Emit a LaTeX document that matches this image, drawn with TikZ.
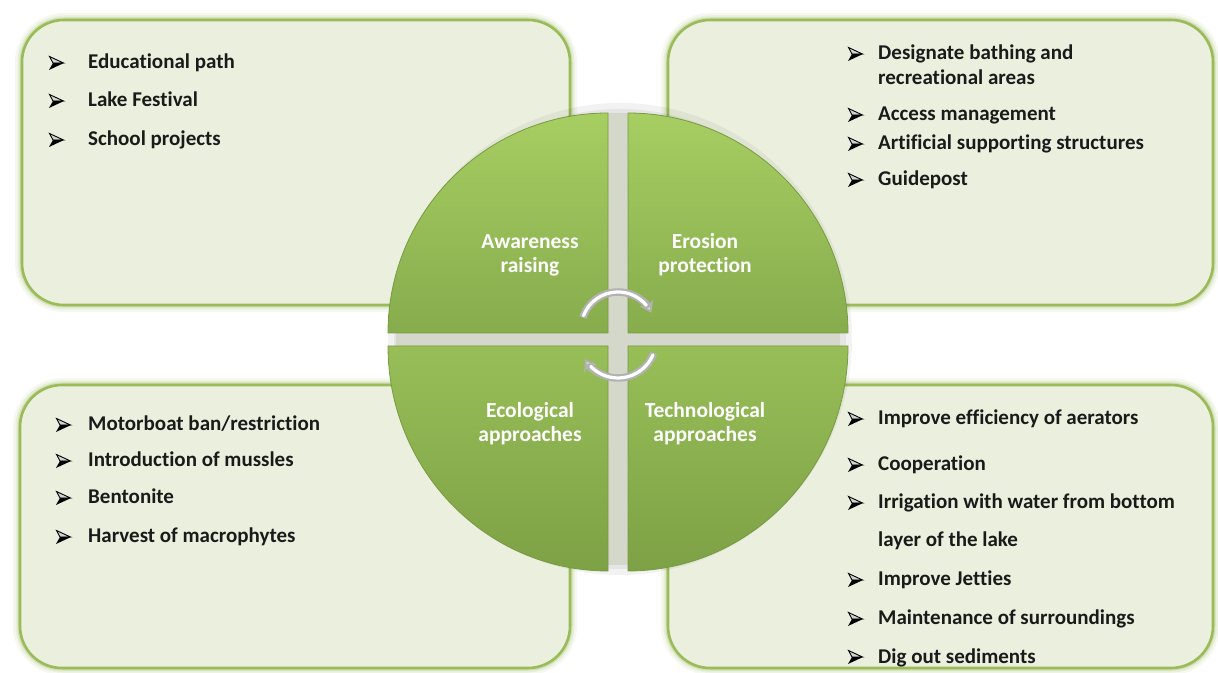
\documentclass[tikz,border=0pt]{standalone}
\usepackage{fontspec}
\setmainfont{Carlito}[Ligatures=NoCommon]
\usetikzlibrary{arrows.meta}
\definecolor{boxfill}{HTML}{EBF0DE}
\definecolor{boxline}{HTML}{9BBB59}
\definecolor{glowc}{HTML}{B5CC88}
\definecolor{qlight}{HTML}{A7CE62}
\definecolor{qdark}{HTML}{86AC4D}
\definecolor{qlight2}{HTML}{98BE58}
\definecolor{qdark2}{HTML}{7DA145}
\definecolor{qedge}{HTML}{789A40}
\definecolor{gapc}{HTML}{D3D8CB}
\definecolor{txt}{HTML}{1A1A1A}
\tikzset{
  glow1/.style={draw=glowc, line width=14pt, opacity=0.12, rounded corners=42pt},
  glow2/.style={draw=glowc, line width=9pt, opacity=0.22, rounded corners=42pt},
  glow3/.style={draw=glowc, line width=5pt, opacity=0.45, rounded corners=42pt},
  panel/.style={fill=boxfill, draw=boxline, line width=2.6pt, rounded corners=42pt},
  quadtop/.style={top color=qlight, bottom color=qdark, draw=qedge, line width=0.8pt},
  quadbot/.style={top color=qlight2, bottom color=qdark2, draw=qedge, line width=0.8pt},
  qlabel/.style={text=white, font=\bfseries\fontsize{21.5}{24}\selectfont, align=center, inner sep=0pt},
  itm/.style={anchor=base west, text=txt, font=\bfseries\fontsize{21}{22}\selectfont, inner sep=0pt},
  cycout/.style={draw=gray!60, line width=7.5pt, -{Stealth[length=11pt,width=15pt,fill=gray!25]}},
  cycin/.style={draw=white, line width=3.2pt, line cap=round},
  bularrow/.pic={
    \filldraw[fill=gray!35, draw=black, line width=0.9pt, line join=miter] (0.5,6.5) -- (14.5,0) -- (4,0) -- cycle;
    \fill[black] (0,-7) -- (15,0) -- (4,0) -- cycle;
  },
}
\begin{document}
\begin{tikzpicture}[x=1pt,y=1pt]
\useasboundingbox (0,0) rectangle (1218,672);
\fill[white] (0,0) rectangle (1218,672);
% panels
\foreach \a/\b/\c/\d in {22/367/570/652, 668/367/1213/652, 20/4/570/287, 668/4/1213/287}{
  \draw[glow1] (\a,\b) rectangle (\c,\d);
  \draw[glow2] (\a,\b) rectangle (\c,\d);
  \draw[glow3] (\a,\b) rectangle (\c,\d);
  \draw[panel] (\a,\b) rectangle (\c,\d);
}
% circle shadow and gap background
\fill[black, opacity=0.05] (620,333) ellipse[x radius=232, y radius=236];
\fill[black, opacity=0.05] (620,333) ellipse[x radius=226, y radius=230];
\fill[gapc] (618,333) ellipse[x radius=222, y radius=226];
% quadrants
\coordinate (qa) at (608,339);
\coordinate (qb) at (628,339);
\coordinate (qc) at (608,326);
\coordinate (qd) at (628,326);
\path[quadtop] (qa) -- ++(-220,0) arc[start angle=180, end angle=90, radius=220] -- cycle;
\path[quadtop] (qb) -- ++(220,0) arc[start angle=0, end angle=90, radius=220] -- cycle;
\path[quadbot] (qc) -- ++(-220,0) arc[start angle=180, end angle=270, x radius=220, y radius=225] -- cycle;
\path[quadbot] (qd) -- ++(220,0) arc[start angle=0, end angle=-90, x radius=220, y radius=225] -- cycle;
% labels
\node[qlabel] (aw) at (530,417) {Awareness\\raising};
\node[qlabel] (er) at (705,417) {Erosion\\protection};
\node[qlabel] (ec) at (530,248) {Ecological\\approaches};
\node[qlabel] (te) at (705,248) {Technological\\approaches};
% cycle arrows
\coordinate (ca) at (618,343);
\coordinate (cb) at (618,332);
\draw[cycout] ([shift={(162:37)}]ca) arc[start angle=162, end angle=26, radius=37];
\draw[cycin] ([shift={(159:37)}]ca) arc[start angle=159, end angle=40, radius=37];
\draw[cycout] ([shift={(-20:38)}]cb) arc[start angle=-20, end angle=-150, radius=38];
\draw[cycin] ([shift={(-23:38)}]cb) arc[start angle=-23, end angle=-136, radius=38];
% bullets
\foreach \bx/\by in {49/609, 49/571, 49/532,
                     848/618, 848/557, 848/528, 848/492,
                     56/247, 56/211, 56/174, 56/135,
                     848/253, 848/207, 848/169, 848/92, 848/53, 848/15}{
  \pic at (\bx,\by) {bularrow};
}
% top-left list
\node[itm] (t1) at (88,603) {Educational path};
\node[itm] (t2) at (88,565) {Lake Festival};
\node[itm] (t3) at (88,526) {School projects};
% top-right list
\node[itm] (r1) at (878,612) {Designate bathing and};
\node[itm] (r1b) at (878,587) {recreational areas};
\node[itm] (r2) at (878,551) {Access management};
\node[itm] (r3) at (878,522) {Artificial supporting structures};
\node[itm] (r4) at (878,486) {Guidepost};
% bottom-left list
\node[itm] (l1) at (88,241) {Motorboat ban/restriction};
\node[itm] (l2) at (88,205) {Introduction of mussles};
\node[itm] (l3) at (88,168) {Bentonite};
\node[itm] (l4) at (88,129) {Harvest of macrophytes};
% bottom-right list
\node[itm] (b1) at (878,247) {Improve efficiency of aerators};
\node[itm] (b2) at (878,201) {Cooperation};
\node[itm] (b3) at (878,163) {Irrigation with water from bottom};
\node[itm] (b3b) at (878,125) {layer of the lake};
\node[itm] (b4) at (878,86) {Improve Jetties};
\node[itm] (b5) at (878,47) {Maintenance of surroundings};
\node[itm] (b6) at (878,9) {Dig out sediments};
\end{tikzpicture}
\end{document}
